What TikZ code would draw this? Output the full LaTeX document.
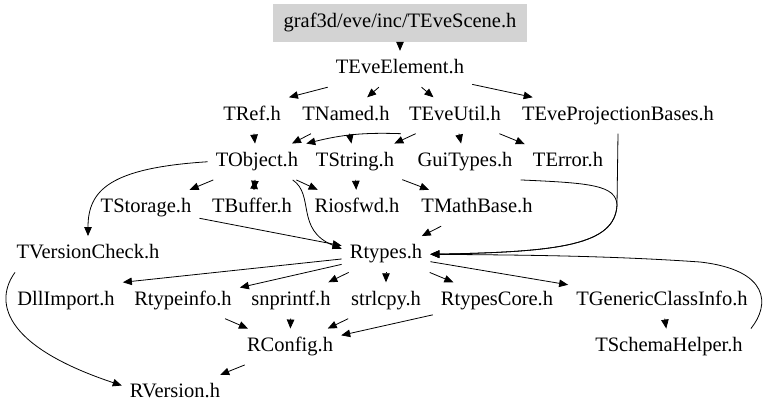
\documentclass[tikz,border=0pt]{standalone}
\usepackage{fontspec}
\setmainfont{Liberation Serif}
\usetikzlibrary{arrows.meta}
\definecolor{rootgray}{HTML}{D3D3D3}
\tikzset{
  file/.style={inner xsep=8pt, inner ysep=0pt, minimum height=36pt,
    text height=14pt, text depth=4.5pt, font=\fontsize{20.5}{24}\selectfont},
  rootfile/.style={file, fill=rootgray, minimum width=254pt, minimum height=38pt},
  dep/.style={line width=0.8pt, -{Triangle[length=9pt,width=7.5pt]}}
}
\begin{document}
\begin{tikzpicture}[x=1pt,y=-1pt]
\useasboundingbox (0,0) rectangle (768,419);

\node at (400,23)[rootfile] (tevescene) {graf3d/eve/inc/TEveScene.h};
\node at (400,69)[file] (teveelement) {TEveElement.h};

\node at (252,115.5)[file] (tref) {TRef.h};
\node at (346,115.5)[file] (tnamed) {TNamed.h};
\node at (455,115.5)[file] (teveutil) {TEveUtil.h};
\node at (618,115.5)[file] (tevepb) {TEveProjectionBases.h};

\node at (257,161.75)[file] (tobject) {TObject.h};
\node at (355,161.75)[file] (tstring) {TString.h};
\node at (465,161.75)[file] (guitypes) {GuiTypes.h};
\node at (568,161.75)[file] (terror) {TError.h};

\node at (146,208)[file] (tstorage) {TStorage.h};
\node at (252,208)[file] (tbuffer) {TBuffer.h};
\node at (357,208)[file] (riosfwd) {Riosfwd.h};
\node at (477,208)[file] (tmathbase) {TMathBase.h};

\node at (88,254.25)[file] (tversioncheck) {TVersionCheck.h};
\node at (386,254.25)[file] (rtypes) {Rtypes.h};

\node at (66,300.5)[file] (dllimport) {DllImport.h};
\node at (183,300.5)[file] (rtypeinfo) {Rtypeinfo.h};
\node at (291,300.5)[file] (snprintf) {snprintf.h};
\node at (386,300.5)[file] (strlcpy) {strlcpy.h};
\node at (497,300.5)[file] (rtypescore) {RtypesCore.h};
\node at (662,300.5)[file] (tgenericci) {TGenericClassInfo.h};

\node at (290,346.75)[file] (rconfig) {RConfig.h};
\node at (669,346.75)[file] (tschemahelper) {TSchemaHelper.h};

\node at (175,393)[file] (rversion) {RVersion.h};

\draw[dep] (tevescene) -- (teveelement);

\draw[dep] (teveelement.south west) -- (tref.north east);
\draw[dep] (teveelement) -- (tnamed);
\draw[dep] (teveelement) -- (teveutil);
\draw[dep] (teveelement) -- (tevepb);

\draw[dep] (tref) -- (tobject);
\draw[dep] (tnamed) -- (tobject);
\draw[dep] (tnamed) -- (tstring);
\draw[dep] (teveutil.south west) to[bend right=8] (tobject.north east);
\draw[dep] (teveutil) -- (tstring);
\draw[dep] (teveutil) -- (guitypes);
\draw[dep] (teveutil) -- (terror);
\draw[dep] (tevepb.south) -- (617,205) .. controls (615,245) and (560,252) .. (rtypes.east);

\draw[dep] (tobject.west) .. controls (110,168) and (88,190) .. (tversioncheck.north);
\draw[dep] (tobject) -- (tstorage);
\draw[dep] (tobject) -- (tbuffer);
\draw[dep] (tbuffer) -- (tobject);
\draw[dep] (tobject) -- (riosfwd);
\draw[dep] (tobject.-27) .. controls (315,195) and (295,230) .. (rtypes.173);
\draw[dep] (tstring) -- (riosfwd);
\draw[dep] (tstring) -- (tmathbase);
\draw[dep] (guitypes.south east) .. controls (590,183) and (616,185) .. (617,205)
  .. controls (615,245) and (560,252) .. (rtypes.east);

\draw[dep] (tstorage) -- (rtypes);
\draw[dep] (tmathbase) -- (rtypes);

\draw[dep] (rtypes) -- (dllimport.north east);
\draw[dep] (rtypes) -- (rtypeinfo);
\draw[dep] (rtypes) -- (snprintf);
\draw[dep] (rtypes) -- (strlcpy);
\draw[dep] (rtypes) -- (rtypescore);
\draw[dep] (rtypes) -- (tgenericci);

\draw[dep] (rtypeinfo) -- (rconfig);
\draw[dep] (snprintf) -- (rconfig);
\draw[dep] (strlcpy) -- (rconfig);
\draw[dep] (rtypescore) -- (rconfig);
\draw[dep] (tgenericci) -- (tschemahelper);
\draw[dep] (tschemahelper.north east) .. controls (770,305) and (770,270) .. (700,262)
  .. controls (600,255) and (500,255) .. (rtypes.east);

\draw[dep] (rconfig) -- (rversion);
\draw[dep] (tversioncheck.-166) .. controls (-5,300) and (0,345) .. (rversion.172);
\end{tikzpicture}
\end{document}
